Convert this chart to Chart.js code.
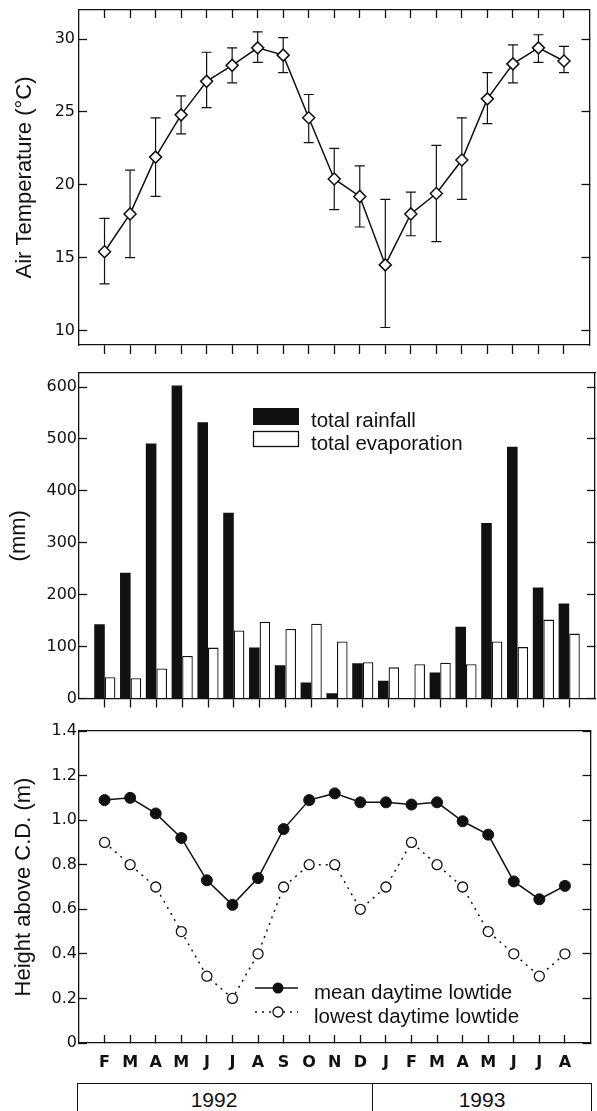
<!DOCTYPE html>
<html>
<head>
<meta charset="utf-8">
<script src="https://cdn.jsdelivr.net/npm/chart.js@4.4.1/dist/chart.umd.min.js"></script>
<style>
html,body{margin:0;padding:0;background:#fff;}
body{width:597px;height:1111px;position:relative;overflow:hidden;}
canvas{position:absolute;left:0;}
#c1{top:0;}
#c2{top:355px;}
#c3{top:712px;}
.ybox{position:absolute;top:1083px;height:60px;border:1.5px solid #111;box-sizing:border-box;}
.ylab{position:absolute;top:1089px;font:21px/21px "Liberation Sans",Arial,sans-serif;color:#111;transform:translateX(-50%);white-space:nowrap;}
</style>
</head>
<body>
<canvas id="c1" width="597" height="354"></canvas>
<canvas id="c2" width="597" height="355"></canvas>
<canvas id="c3" width="597" height="368"></canvas>
<div class="ybox" style="left:77px;width:296px;"></div>
<div class="ybox" style="left:371.5px;width:220px;"></div>
<div class="ylab" id="y1992" style="left:214px;"></div>
<div class="ylab" id="y1993" style="left:482px;"></div>
<script>
// ---------------- data ----------------
const months = ['F','M','A','M','J','J','A','S','O','N','D','J','F','M','A','M','J','J','A'];
const years = ['1992', '1993'];

const airTemp     = [15.4, 18.0, 21.9, 24.8, 27.1, 28.2, 29.4, 28.9, 24.6, 20.4, 19.2, 14.5, 18.0, 19.4, 21.7, 25.9, 28.3, 29.4, 28.5];
const airTempHigh = [17.7, 21.0, 24.6, 26.1, 29.1, 29.4, 30.5, 30.1, 26.2, 22.5, 21.3, 19.0, 19.5, 22.7, 24.6, 27.7, 29.6, 30.3, 29.5];
const airTempLow  = [13.2, 15.0, 19.2, 23.5, 25.3, 27.0, 28.4, 27.7, 22.9, 18.3, 17.1, 10.2, 16.5, 16.1, 19.0, 24.2, 27.0, 28.4, 27.7];

const rainfall    = [143, 242, 491, 603, 532, 358, 98, 64, 31, 10, 68, 34, 0, 50, 138, 338, 485, 214, 183];
const evaporation = [41, 39, 58, 82, 98, 131, 148, 134, 144, 110, 70, 60, 66, 69, 66, 110, 99, 152, 125];

const meanLowtide   = [1.09, 1.10, 1.03, 0.92, 0.73, 0.62, 0.74, 0.96, 1.09, 1.12, 1.08, 1.08, 1.07, 1.08, 0.995, 0.935, 0.725, 0.645, 0.705];
const lowestLowtide = [0.9, 0.8, 0.7, 0.5, 0.3, 0.2, 0.4, 0.7, 0.8, 0.8, 0.6, 0.7, 0.9, 0.8, 0.7, 0.5, 0.4, 0.3, 0.4];

const tempTicks = [10, 15, 20, 25, 30];
const tempTickLabels = ['10', '15', '20', '25', '30'];
const mmTicks = [0, 100, 200, 300, 400, 500, 600];
const mmTickLabels = ['0', '100', '200', '300', '400', '500', '600'];
const heightTicks = [0, 0.2, 0.4, 0.6, 0.8, 1.0, 1.2, 1.4];
const heightTickLabels = ['0', '0.2', '0.4', '0.6', '0.8', '1.0', '1.2', '1.4'];

const seriesNames = ['total rainfall', 'total evaporation', 'mean daytime lowtide', 'lowest daytime lowtide'];
const axisTitles = ['Air Temperature (°C)', '(mm)', 'Height above C.D. (m)'];

// ---------------- styling helpers ----------------
const INK = '#111';
const AXW = 1.3;
const TICK_FONT = { family: 'DejaVu Sans', size: 16 };
const TITLE_FONT = { family: 'Liberation Sans', size: 22 };
const LEG_FONT = '20.5px "Liberation Sans"';

function noPad(s) { s.paddingTop = 0; s.paddingBottom = 0; s.paddingLeft = 0; s.paddingRight = 0; }

function xAxis(position, tickLength, height, showLabels) {
  return {
    type: 'linear', position, min: -1, max: 19, bounds: 'data', offset: false,
    afterBuildTicks: s => { s.ticks = months.map((m, i) => ({ value: i })); },
    afterFit: s => { s.height = height; noPad(s); },
    ticks: showLabels
      ? { display: true, stepSize: 1, autoSkip: false, maxRotation: 0, minRotation: 0, padding: 18, color: INK,
          font: { family: 'DejaVu Sans', size: 16, weight: 'bold' }, callback: v => months[v] }
      : { display: false, stepSize: 1 },
    grid: { offset: false, drawOnChartArea: false, drawTicks: tickLength !== 0, tickLength: tickLength, tickWidth: AXW, tickColor: INK },
    border: { display: true, color: INK, width: AXW }
  };
}

function yAxis(position, min, max, vals, labels, titleText, titlePad, labelPad) {
  const left = position === 'left';
  return {
    type: 'linear', position, min, max, bounds: 'data', beginAtZero: false,
    afterBuildTicks: s => { s.ticks = vals.map(v => ({ value: v })); },
    afterFit: s => { s.width = left ? 79 : 0; noPad(s); },
    ticks: left
      ? { display: true, autoSkip: false, padding: labelPad, color: INK, font: TICK_FONT, callback: (v, i) => labels[i] }
      : { display: false },
    grid: { drawOnChartArea: false, tickLength: -8, tickWidth: AXW, tickColor: INK },
    border: { display: true, color: INK, width: AXW },
    title: left
      ? { display: true, text: titleText, color: INK, font: TITLE_FONT, padding: { top: titlePad, bottom: 0 } }
      : { display: false }
  };
}

const common = {
  responsive: false, animation: false, devicePixelRatio: 1, events: [],
  plugins: { legend: { display: false }, tooltip: { enabled: false } }
};

// ---------------- panel 1: air temperature ----------------
const errData = airTempLow.flatMap((lo, i) => [{ x: i, y: lo }, { x: i, y: airTempHigh[i] }, { x: i, y: null }]);

new Chart(document.getElementById('c1'), {
  type: 'line',
  data: {
    datasets: [
      { data: airTemp.map((v, i) => ({ x: i, y: v })), borderColor: INK, borderWidth: 1.5, tension: 0,
        pointStyle: 'rectRot', pointRadius: 6, pointHoverRadius: 6, pointBackgroundColor: '#fff',
        pointBorderColor: INK, pointBorderWidth: 1.5 },
      { data: errData, borderColor: INK, borderWidth: 1.2, spanGaps: false, tension: 0,
        pointStyle: 'line', pointRadius: 5, pointHoverRadius: 5, pointBorderColor: INK, pointBorderWidth: 1.2 }
    ]
  },
  options: Object.assign({}, common, {
    layout: { padding: { top: 10, right: 2, left: 0, bottom: 0 } },
    scales: {
      x: xAxis('bottom', 9, 9, false),
      x2: xAxis('top', -8, 0, false),
      y: yAxis('left', 9, 32, tempTicks, tempTickLabels, axisTitles[0], 12, 12),
      y2: yAxis('right', 9, 32, tempTicks, tempTickLabels, '', 0, 0)
    }
  })
});

// ---------------- panel 2: rainfall / evaporation ----------------
const rainLegend = {
  id: 'rainLegend',
  afterDraw(chart) {
    const ctx = chart.ctx;
    ctx.save();
    ctx.fillStyle = INK;
    ctx.fillRect(253, 53, 46, 17);
    ctx.fillStyle = '#fff';
    ctx.fillRect(253, 76, 46, 16);
    ctx.strokeStyle = INK; ctx.lineWidth = AXW;
    ctx.strokeRect(253.5, 76.5, 45, 15);
    ctx.fillStyle = INK;
    ctx.font = LEG_FONT;
    ctx.textBaseline = 'alphabetic';
    ctx.textAlign = 'left';
    ctx.fillText(seriesNames[0], 311, 72);
    ctx.fillText(seriesNames[1], 311, 95);
    ctx.restore();
  }
};

new Chart(document.getElementById('c2'), {
  type: 'bar',
  data: {
    datasets: [
      { label: seriesNames[0], data: rainfall.map((v, i) => ({ x: i, y: v })), backgroundColor: INK, borderWidth: 0,
        categoryPercentage: 0.82, barPercentage: 1.0 },
      { label: seriesNames[1], data: evaporation.map((v, i) => ({ x: i, y: v })), backgroundColor: '#fff',
        borderColor: INK, borderWidth: 1.3, categoryPercentage: 0.82, barPercentage: 1.0 }
    ]
  },
  options: Object.assign({}, common, {
    layout: { padding: { top: 18, right: 2, left: 0, bottom: 0 } },
    scales: {
      x: xAxis('bottom', 9, 11.5, false),
      x2: xAxis('top', 0, 0, false),
      y: yAxis('left', 0, 627, mmTicks, mmTickLabels, axisTitles[1], 6, 10),
      y2: yAxis('right', 0, 627, mmTicks, mmTickLabels, '', 0, 0)
    }
  }),
  plugins: [rainLegend]
});

// ---------------- panel 3: tide heights ----------------
const tideLegend = {
  id: 'tideLegend',
  afterDraw(chart) {
    const ctx = chart.ctx;
    ctx.save();
    ctx.strokeStyle = INK; ctx.lineWidth = 1.5;
    ctx.beginPath(); ctx.moveTo(255, 276); ctx.lineTo(298, 276); ctx.stroke();
    ctx.fillStyle = INK;
    ctx.beginPath(); ctx.arc(278, 276, 5.5, 0, Math.PI * 2); ctx.fill();
    ctx.setLineDash([2, 5]);
    ctx.beginPath(); ctx.moveTo(255, 300); ctx.lineTo(298, 300); ctx.stroke();
    ctx.setLineDash([]);
    ctx.fillStyle = '#fff'; ctx.lineWidth = 1.3;
    ctx.beginPath(); ctx.arc(278, 300, 5, 0, Math.PI * 2); ctx.fill(); ctx.stroke();
    ctx.fillStyle = INK;
    ctx.font = LEG_FONT;
    ctx.textBaseline = 'alphabetic';
    ctx.textAlign = 'left';
    ctx.fillText(seriesNames[2], 314, 287);
    ctx.fillText(seriesNames[3], 314, 311);
    ctx.restore();
  }
};

new Chart(document.getElementById('c3'), {
  type: 'line',
  data: {
    datasets: [
      { data: meanLowtide.map((v, i) => ({ x: i, y: v })), borderColor: INK, borderWidth: 1.5, tension: 0,
        pointStyle: 'circle', pointRadius: 5.5, pointHoverRadius: 5.5, pointBackgroundColor: INK,
        pointBorderColor: INK, pointBorderWidth: 1 },
      { data: lowestLowtide.map((v, i) => ({ x: i, y: v })), borderColor: INK, borderWidth: 1.5, borderDash: [2, 5], tension: 0,
        pointStyle: 'circle', pointRadius: 5, pointHoverRadius: 5, pointBackgroundColor: '#fff',
        pointBorderColor: INK, pointBorderWidth: 1.3 }
    ]
  },
  options: Object.assign({}, common, {
    layout: { padding: { top: 19, right: 2, left: 0, bottom: 0 } },
    scales: {
      x: xAxis('bottom', -8, 37, true),
      x2: xAxis('top', 0, 0, false),
      y: yAxis('left', 0, 1.4, heightTicks, heightTickLabels, axisTitles[2], 11, 10),
      y2: yAxis('right', 0, 1.4, heightTicks, heightTickLabels, '', 0, 0)
    }
  }),
  plugins: [tideLegend]
});

document.getElementById('y1992').textContent = years[0];
document.getElementById('y1993').textContent = years[1];
</script>
</body>
</html>
